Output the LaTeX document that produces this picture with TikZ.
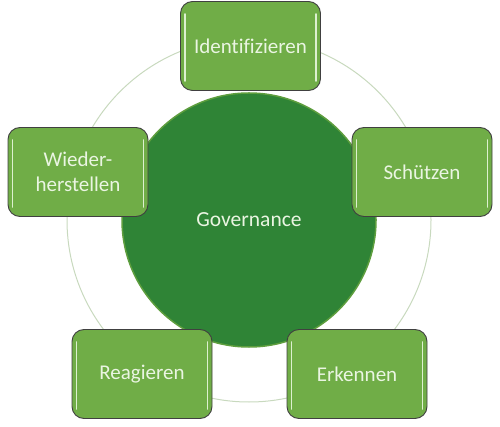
\documentclass[tikz,border=0pt]{standalone}
\usepackage{fontspec}
\setmainfont[Ligatures=NoCommon]{Carlito}
\definecolor{boxgreen}{HTML}{70AD47}
\definecolor{darkgreen}{HTML}{2F8436}
\definecolor{rimgreen}{HTML}{5E9E3E}
\definecolor{ringcol}{HTML}{C8D9BE}
\definecolor{txtcol}{HTML}{EAF5E2}
\definecolor{glint}{HTML}{DDF0D0}
\tikzset{
  stepbox/.style={draw=black!75, line width=0.9pt, fill=boxgreen, rounded corners=12pt,
    minimum width=140pt, minimum height=89pt, text=txtcol, font=\fontsize{21}{25}\selectfont,
    align=center, inner sep=2pt},
  hub/.style={circle, draw=rimgreen, line width=1.5pt, fill=darkgreen, minimum size=254pt,
    text=txtcol, font=\fontsize{21.5}{25}\selectfont},
  ringline/.style={draw=ringcol, line width=1pt},
  glintline/.style={glint, line width=1.8pt, line cap=round}
}
\newcommand{\glints}[1]{%
  \draw[glintline] ([xshift=5pt,yshift=-13pt]#1.north west) -- ([xshift=5pt,yshift=10pt]#1.south west);
  \draw[glintline] ([xshift=-5pt,yshift=-13pt]#1.north east) -- ([xshift=-5pt,yshift=10pt]#1.south east);
}
\begin{document}
\begin{tikzpicture}[x=1pt,y=-1pt]
\useasboundingbox (0,0) rectangle (500,427);
\coordinate (c) at (249,220);
\draw[ringline] (c) circle[radius=182];
\node[hub] (gov) at (c) {Governance};
\node[stepbox] (ide) at (250.5,46) {Identifizieren};
\node[stepbox] (sch) at (422,172) {Schützen};
\node[stepbox] (erk) at (357,374) {Erkennen};
\node[stepbox] (rea) at (142,374) {Reagieren};
\node[stepbox] (wie) at (78,172) {Wieder-\\herstellen};
\glints{ide}
\glints{sch}
\glints{erk}
\glints{rea}
\glints{wie}
\end{tikzpicture}
\end{document}
